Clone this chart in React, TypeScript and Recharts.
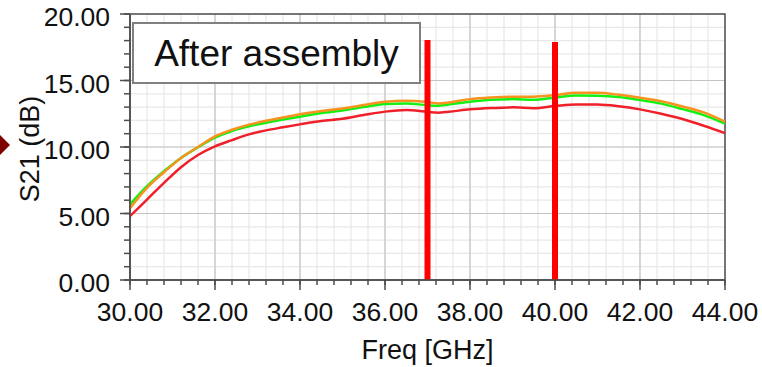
import React from 'react';
import {
  LineChart,
  Line,
  XAxis,
  YAxis,
  CartesianGrid,
  ReferenceLine,
  ReferenceArea,
  Customized,
} from 'recharts';

// ---- data ----
const freqs = [30, 30.4, 30.8, 31.2, 31.6, 32, 32.4, 32.8, 33.2, 33.6, 34, 34.5, 35, 35.5, 36, 36.5, 37, 37.25, 37.5, 38, 38.5, 39, 39.5, 40, 40.5, 41, 41.5, 42, 42.5, 43, 43.5, 44];
const greenS21 = [5.68, 7.05, 8.18, 9.18, 9.98, 10.7, 11.2, 11.55, 11.82, 12.06, 12.28, 12.55, 12.75, 13.0, 13.23, 13.28, 13.14, 13.1, 13.2, 13.4, 13.55, 13.6, 13.55, 13.73, 13.88, 13.86, 13.76, 13.53, 13.26, 12.85, 12.4, 11.75];
const orangeS21 = [5.4, 6.93, 8.1, 9.18, 10.0, 10.8, 11.3, 11.68, 11.97, 12.22, 12.46, 12.7, 12.9, 13.15, 13.41, 13.48, 13.38, 13.28, 13.35, 13.6, 13.72, 13.78, 13.78, 13.9, 14.08, 14.08, 13.93, 13.71, 13.44, 13.05, 12.6, 11.9];
const redS21 = [4.8, 6.05, 7.3, 8.48, 9.4, 10.05, 10.52, 10.95, 11.25, 11.48, 11.7, 11.95, 12.12, 12.4, 12.66, 12.78, 12.64, 12.58, 12.65, 12.83, 12.93, 12.98, 12.92, 13.08, 13.2, 13.2, 13.07, 12.83, 12.5, 12.1, 11.6, 11.05];

const markerFreqs = [37, 40];
const markerTops = [18.05, 17.9];

const xMajorTicks = [30, 32, 34, 36, 38, 40, 42, 44];
const yMajorTicks = [0, 5, 10, 15, 20];
const xMinorTicks = Array.from({ length: 36 }, (_, i) => Number((30 + i * 0.4).toFixed(1)));
const yMinorTicks = Array.from({ length: 21 }, (_, i) => i);

const legendText = 'After assembly';
const xTitle = 'Freq [GHz]';
const yTitle = 'S21 (dB)';

const data = freqs.map((f, i) => ({ f, green: greenS21[i], orange: orangeS21[i], red: redS21[i] }));

const FONT = '"Liberation Sans", Arial, sans-serif';
const AXIS = '#4d4d4d';

const isMajorX = (v: number) => xMajorTicks.some((m) => Math.abs(m - v) < 1e-6);
const isMajorY = (v: number) => yMajorTicks.some((m) => Math.abs(m - v) < 1e-6);

const XTick = (props: any) => {
  const { x, y, payload } = props;
  const v = payload.value;
  if (!isMajorX(v)) return <g />;
  return (
    <g>
      <line x1={x} x2={x} y1={y - 22} y2={y - 12} stroke={AXIS} strokeWidth={1.5} />
      <text x={x} y={y} dy="0.71em" textAnchor="middle" fontFamily={FONT} fontSize={26.5} fill="#111">
        {v.toFixed(2)}
      </text>
    </g>
  );
};

const YTick = (props: any) => {
  const { x, y, payload } = props;
  const v = payload.value;
  if (!isMajorY(v)) return <g />;
  return (
    <g>
      <line x1={x + 10} x2={x + 20} y1={y} y2={y} stroke={AXIS} strokeWidth={1.5} />
      <text x={x} y={y} dy={12} textAnchor="end" fontFamily={FONT} fontSize={26.5} fill="#111">
        {v.toFixed(2)}
      </text>
    </g>
  );
};

const majorV = (args: any) => {
  const { xAxis, offset } = args;
  const vals = xMajorTicks.slice(1, -1);
  if (xAxis && typeof xAxis.scale === 'function') return vals.map((v) => xAxis.scale(v));
  return vals.map((v) => offset.left + ((v - 30) / 14) * offset.width);
};
const majorH = (args: any) => {
  const { yAxis, offset } = args;
  const vals = yMajorTicks.slice(1, -1);
  if (yAxis && typeof yAxis.scale === 'function') return vals.map((v) => yAxis.scale(v));
  return vals.map((v) => offset.top + offset.height - (v / 20) * offset.height);
};

const Decorations = () => (
  <g>
    <rect x={133} y={23} width={287} height={60} fill="#fff" stroke="#808080" strokeWidth={2} />
    <text x={276.5} y={65.5} textAnchor="middle" fontFamily={FONT} fontSize={37} fill="#111">
      {legendText}
    </text>
    <polygon points="-14,145 -2,133 10,145 -2,157" fill="#800000" />
    <text
      x={38.5}
      y={149}
      transform="rotate(-90 38.5 149)"
      textAnchor="middle"
      fontFamily={FONT}
      fontSize={27}
      fill="#111"
    >
      {yTitle}
    </text>
    <text x={427.5} y={359} textAnchor="middle" fontFamily={FONT} fontSize={27} fill="#111">
      {xTitle}
    </text>
  </g>
);

export default function App() {
  return (
    <div style={{ position: 'absolute', left: 0, top: 0, width: 762, height: 367, background: '#fff' }}>
      <LineChart width={762} height={367} data={data} margin={{ top: 14, right: 37, bottom: 0, left: 0 }}>
        <CartesianGrid stroke="#e8e8e8" strokeWidth={1.2} />
        <CartesianGrid
          stroke="#c4c4c4"
          strokeWidth={1.2}
          verticalCoordinatesGenerator={majorV}
          horizontalCoordinatesGenerator={majorH}
        />
        <XAxis
          dataKey="f"
          type="number"
          domain={[30, 44]}
          ticks={xMinorTicks}
          interval={0}
          height={87}
          tickSize={5}
          tickMargin={17}
          tick={<XTick />}
          stroke={AXIS}
          strokeWidth={1.5}
          allowDataOverflow
        />
        <YAxis
          type="number"
          domain={[0, 20]}
          ticks={yMinorTicks}
          interval={0}
          width={130}
          tickSize={6}
          tickMargin={14}
          tick={<YTick />}
          stroke={AXIS}
          strokeWidth={1.5}
          allowDataOverflow
        />
        <ReferenceArea x1={30} x2={44} y1={0} y2={20} fill="none" stroke={AXIS} strokeWidth={1.5} />
        <Line type="monotone" dataKey="red" stroke="#f0202a" strokeWidth={2.5} dot={false} isAnimationActive={false} />
        <Line type="monotone" dataKey="green" stroke="#14f014" strokeWidth={2.5} dot={false} isAnimationActive={false} />
        <Line type="monotone" dataKey="orange" stroke="#f7931e" strokeWidth={2.5} dot={false} isAnimationActive={false} />
        {markerFreqs.map((m, i) => (
          <ReferenceLine
            key={m}
            segment={[{ x: m, y: 0 }, { x: m, y: markerTops[i] }]}
            stroke="#ff0000"
            strokeWidth={6}
          />
        ))}
        <Customized component={Decorations} />
      </LineChart>
    </div>
  );
}
